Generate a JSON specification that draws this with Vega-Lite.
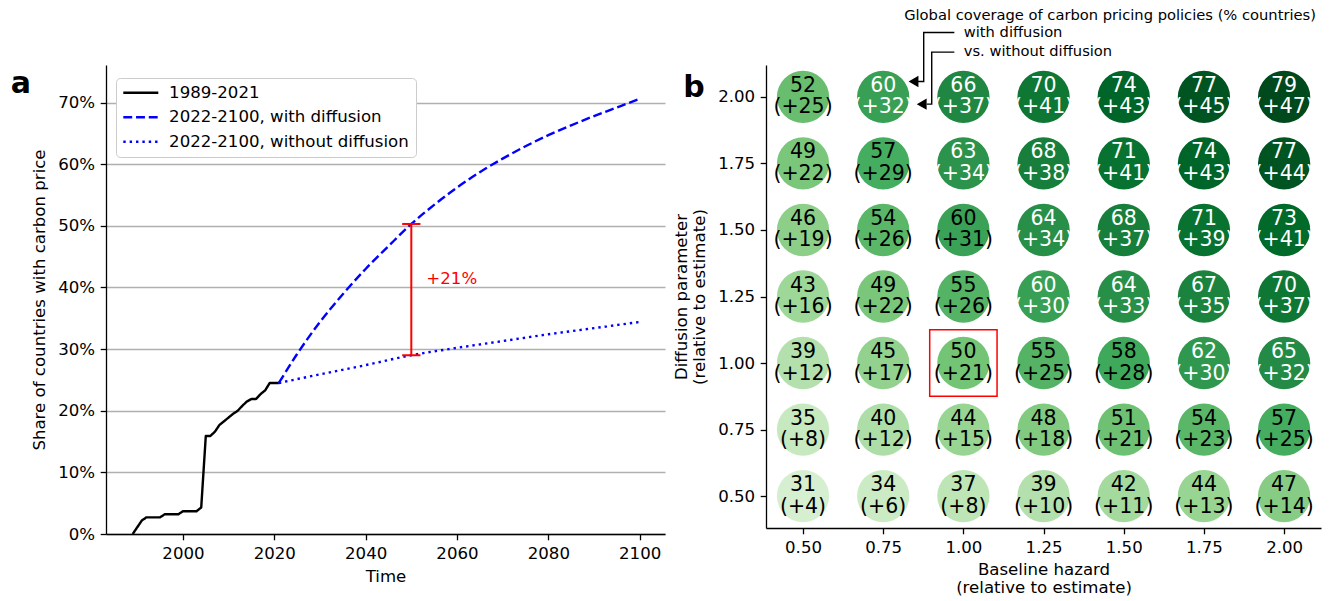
{
  "$schema": "https://vega.github.io/schema/vega-lite/v6.json",
  "padding": {"left": 10, "top": 7, "right": 5, "bottom": 2},
  "background": "white",
  "config": {
    "font": "DejaVu Sans",
    "view": {"stroke": null},
    "axis": {
      "grid": false,
      "labelFontSize": 16.6,
      "titleFontSize": 16.6,
      "titleFontWeight": "normal",
      "labelColor": "black",
      "titleColor": "black",
      "domainColor": "black",
      "tickColor": "black",
      "domainWidth": 1.3,
      "tickWidth": 1.3,
      "tickSize": 5.8,
      "labelPadding": 5.6,
      "labelFlush": false,
      "labelOverlap": false,
      "gridColor": "#b0b0b0",
      "gridWidth": 1.3,
      "gridOpacity": 1,
      "titleLineHeight": 18.5
    }
  },
  "datasets": {
    "hist": [
      {"year": 1989, "share": 0.0, "series": "1989-2021"},
      {"year": 1990, "share": 0.011, "series": "1989-2021"},
      {"year": 1991, "share": 0.022, "series": "1989-2021"},
      {"year": 1992, "share": 0.027, "series": "1989-2021"},
      {"year": 1993, "share": 0.027, "series": "1989-2021"},
      {"year": 1994, "share": 0.027, "series": "1989-2021"},
      {"year": 1995, "share": 0.027, "series": "1989-2021"},
      {"year": 1996, "share": 0.032, "series": "1989-2021"},
      {"year": 1997, "share": 0.032, "series": "1989-2021"},
      {"year": 1998, "share": 0.032, "series": "1989-2021"},
      {"year": 1999, "share": 0.032, "series": "1989-2021"},
      {"year": 2000, "share": 0.037, "series": "1989-2021"},
      {"year": 2001, "share": 0.037, "series": "1989-2021"},
      {"year": 2002, "share": 0.037, "series": "1989-2021"},
      {"year": 2003, "share": 0.037, "series": "1989-2021"},
      {"year": 2004, "share": 0.043, "series": "1989-2021"},
      {"year": 2005, "share": 0.159, "series": "1989-2021"},
      {"year": 2006, "share": 0.159, "series": "1989-2021"},
      {"year": 2007, "share": 0.166, "series": "1989-2021"},
      {"year": 2008, "share": 0.177, "series": "1989-2021"},
      {"year": 2009, "share": 0.183, "series": "1989-2021"},
      {"year": 2010, "share": 0.189, "series": "1989-2021"},
      {"year": 2011, "share": 0.195, "series": "1989-2021"},
      {"year": 2012, "share": 0.200, "series": "1989-2021"},
      {"year": 2013, "share": 0.208, "series": "1989-2021"},
      {"year": 2014, "share": 0.215, "series": "1989-2021"},
      {"year": 2015, "share": 0.219, "series": "1989-2021"},
      {"year": 2016, "share": 0.219, "series": "1989-2021"},
      {"year": 2017, "share": 0.227, "series": "1989-2021"},
      {"year": 2018, "share": 0.233, "series": "1989-2021"},
      {"year": 2019, "share": 0.245, "series": "1989-2021"},
      {"year": 2020, "share": 0.245, "series": "1989-2021"},
      {"year": 2021, "share": 0.245, "series": "1989-2021"}
    ],
    "proj": [
      {"year": 2021, "share": 0.245, "series": "2022-2100, with diffusion"},
      {"year": 2025, "share": 0.292, "series": "2022-2100, with diffusion"},
      {"year": 2030, "share": 0.344, "series": "2022-2100, with diffusion"},
      {"year": 2035, "share": 0.389, "series": "2022-2100, with diffusion"},
      {"year": 2040, "share": 0.430, "series": "2022-2100, with diffusion"},
      {"year": 2045, "share": 0.467, "series": "2022-2100, with diffusion"},
      {"year": 2050, "share": 0.503, "series": "2022-2100, with diffusion"},
      {"year": 2055, "share": 0.534, "series": "2022-2100, with diffusion"},
      {"year": 2060, "share": 0.562, "series": "2022-2100, with diffusion"},
      {"year": 2065, "share": 0.587, "series": "2022-2100, with diffusion"},
      {"year": 2070, "share": 0.609, "series": "2022-2100, with diffusion"},
      {"year": 2075, "share": 0.629, "series": "2022-2100, with diffusion"},
      {"year": 2080, "share": 0.647, "series": "2022-2100, with diffusion"},
      {"year": 2085, "share": 0.663, "series": "2022-2100, with diffusion"},
      {"year": 2090, "share": 0.678, "series": "2022-2100, with diffusion"},
      {"year": 2095, "share": 0.692, "series": "2022-2100, with diffusion"},
      {"year": 2100, "share": 0.706, "series": "2022-2100, with diffusion"},
      {"year": 2021, "share": 0.245, "series": "2022-2100, without diffusion"},
      {"year": 2030, "share": 0.259, "series": "2022-2100, without diffusion"},
      {"year": 2040, "share": 0.274, "series": "2022-2100, without diffusion"},
      {"year": 2050, "share": 0.290, "series": "2022-2100, without diffusion"},
      {"year": 2060, "share": 0.302, "series": "2022-2100, without diffusion"},
      {"year": 2070, "share": 0.313, "series": "2022-2100, without diffusion"},
      {"year": 2080, "share": 0.324, "series": "2022-2100, without diffusion"},
      {"year": 2090, "share": 0.334, "series": "2022-2100, without diffusion"},
      {"year": 2100, "share": 0.344, "series": "2022-2100, without diffusion"}
    ],
    "gap": [{"year": 2050, "share": 0.290, "share2": 0.503}],
    "caps": [
      {"year": 2048.0, "year2": 2052.0, "share": 0.290},
      {"year": 2048.0, "year2": 2052.0, "share": 0.503}
    ],
    "gaplabel": [{"year": 2053.3, "share": 0.414, "label": "+21%"}],
    "panelA": [{"year": 1964.5, "share": 0.715, "label": "a"}],
    "grid": [
      {"h": 0.5, "dp": 2.0, "w": 52, "d": 25}, {"h": 0.75, "dp": 2.0, "w": 60, "d": 32}, {"h": 1.0, "dp": 2.0, "w": 66, "d": 37}, {"h": 1.25, "dp": 2.0, "w": 70, "d": 41}, {"h": 1.5, "dp": 2.0, "w": 74, "d": 43}, {"h": 1.75, "dp": 2.0, "w": 77, "d": 45}, {"h": 2.0, "dp": 2.0, "w": 79, "d": 47},
      {"h": 0.5, "dp": 1.75, "w": 49, "d": 22}, {"h": 0.75, "dp": 1.75, "w": 57, "d": 29}, {"h": 1.0, "dp": 1.75, "w": 63, "d": 34}, {"h": 1.25, "dp": 1.75, "w": 68, "d": 38}, {"h": 1.5, "dp": 1.75, "w": 71, "d": 41}, {"h": 1.75, "dp": 1.75, "w": 74, "d": 43}, {"h": 2.0, "dp": 1.75, "w": 77, "d": 44},
      {"h": 0.5, "dp": 1.5, "w": 46, "d": 19}, {"h": 0.75, "dp": 1.5, "w": 54, "d": 26}, {"h": 1.0, "dp": 1.5, "w": 59.6, "d": 31}, {"h": 1.25, "dp": 1.5, "w": 64, "d": 34}, {"h": 1.5, "dp": 1.5, "w": 68, "d": 37}, {"h": 1.75, "dp": 1.5, "w": 71, "d": 39}, {"h": 2.0, "dp": 1.5, "w": 73, "d": 41},
      {"h": 0.5, "dp": 1.25, "w": 43, "d": 16}, {"h": 0.75, "dp": 1.25, "w": 49, "d": 22}, {"h": 1.0, "dp": 1.25, "w": 55, "d": 26}, {"h": 1.25, "dp": 1.25, "w": 60, "d": 30}, {"h": 1.5, "dp": 1.25, "w": 64, "d": 33}, {"h": 1.75, "dp": 1.25, "w": 67, "d": 35}, {"h": 2.0, "dp": 1.25, "w": 70, "d": 37},
      {"h": 0.5, "dp": 1.0, "w": 39, "d": 12}, {"h": 0.75, "dp": 1.0, "w": 45, "d": 17}, {"h": 1.0, "dp": 1.0, "w": 50, "d": 21}, {"h": 1.25, "dp": 1.0, "w": 55, "d": 25}, {"h": 1.5, "dp": 1.0, "w": 58, "d": 28}, {"h": 1.75, "dp": 1.0, "w": 62, "d": 30}, {"h": 2.0, "dp": 1.0, "w": 65, "d": 32},
      {"h": 0.5, "dp": 0.75, "w": 35, "d": 8}, {"h": 0.75, "dp": 0.75, "w": 40, "d": 12}, {"h": 1.0, "dp": 0.75, "w": 44, "d": 15}, {"h": 1.25, "dp": 0.75, "w": 48, "d": 18}, {"h": 1.5, "dp": 0.75, "w": 51, "d": 21}, {"h": 1.75, "dp": 0.75, "w": 54, "d": 23}, {"h": 2.0, "dp": 0.75, "w": 57, "d": 25},
      {"h": 0.5, "dp": 0.5, "w": 31, "d": 4}, {"h": 0.75, "dp": 0.5, "w": 34, "d": 6}, {"h": 1.0, "dp": 0.5, "w": 37, "d": 8}, {"h": 1.25, "dp": 0.5, "w": 39, "d": 10}, {"h": 1.5, "dp": 0.5, "w": 42, "d": 11}, {"h": 1.75, "dp": 0.5, "w": 44, "d": 13}, {"h": 2.0, "dp": 0.5, "w": 47, "d": 14}
    ],
    "box": [{"h": 0.895, "h2": 1.105, "dp": 0.875, "dp2": 1.125}],
    "arrows": [
      {"id": 1, "o": 1, "h": 0.9718, "dp": 2.2420},
      {"id": 1, "o": 2, "h": 0.8763, "dp": 2.2420},
      {"id": 1, "o": 3, "h": 0.8763, "dp": 2.0578},
      {"id": 1, "o": 4, "h": 0.8585, "dp": 2.0578},
      {"id": 2, "o": 1, "h": 0.9718, "dp": 2.1684},
      {"id": 2, "o": 2, "h": 0.9013, "dp": 2.1684},
      {"id": 2, "o": 3, "h": 0.9013, "dp": 1.9729},
      {"id": 2, "o": 4, "h": 0.8857, "dp": 1.9729}
    ],
    "heads": [
      {"h": 0.8445, "dp": 2.0578},
      {"h": 0.8701, "dp": 1.9729}
    ],
    "noteTitle": [{"h": 1.4573, "dp": 2.3048, "label": "Global coverage of carbon pricing policies (% countries)"}],
    "noteLines": [
      {"h": 1.0011, "dp": 2.2398, "label": "with diffusion"},
      {"h": 1.0011, "dp": 2.1684, "label": "vs. without diffusion"}
    ],
    "panelB": [{"h": 0.1601, "dp": 2.0, "label": "b"}]
  },
  "spacing": 101,
  "bounds": "flush",
  "hconcat": [
    {
      "width": 559,
      "height": 469,
      "layer": [
        {
          "data": {"name": "hist"},
          "mark": {"type": "line", "strokeWidth": 2.4, "strokeJoin": "round"},
          "encoding": {
            "x": {"field": "year", "type": "quantitative", "scale": {"domain": [1983.15, 2105.55], "nice": false, "zero": false}, "axis": {"values": [2000, 2020, 2040, 2060, 2080, 2100], "format": "d", "title": "Time", "titlePadding": 6}},
            "y": {"field": "share", "type": "quantitative", "scale": {"domain": [0, 0.7609], "nice": false, "zero": false}, "axis": {"values": [0, 0.1, 0.2, 0.3, 0.4, 0.5, 0.6, 0.7], "format": ".0%", "title": "Share of countries with carbon price", "grid": true, "titlePadding": 10}},
            "color": {"field": "series", "type": "nominal", "scale": {"domain": ["1989-2021", "2022-2100, with diffusion", "2022-2100, without diffusion"], "range": ["black", "blue", "blue"]}, "legend": null},
            "strokeDash": {"field": "series", "type": "nominal", "scale": {"domain": ["1989-2021", "2022-2100, with diffusion", "2022-2100, without diffusion"], "range": [[1, 0], [8.9, 3.84], [2.4, 3.96]]}, "legend": {"orient": "none", "legendX": 10, "legendY": 13, "title": null, "symbolType": "M-1.5,0H5.5", "symbolSize": 100, "symbolStrokeWidth": 2.4, "labelFontSize": 16.6, "labelOffset": 30, "rowPadding": 7.5, "padding": 6.5, "fillColor": "white", "strokeColor": "#cccccc", "cornerRadius": 4, "labelColor": "black", "labelLimit": 400, "encode": {"symbols": {"update": {"stroke": {"signal": "datum.value === '1989-2021' ? 'black' : 'blue'"}}}}}}
          }
        },
        {
          "data": {"name": "proj"},
          "mark": {"type": "line", "strokeWidth": 2.4, "interpolate": "monotone"},
          "encoding": {
            "x": {"field": "year", "type": "quantitative"},
            "y": {"field": "share", "type": "quantitative"},
            "color": {"field": "series", "type": "nominal", "legend": null},
            "strokeDash": {"field": "series", "type": "nominal"}
          }
        },
        {
          "data": {"name": "gap"},
          "mark": {"type": "rule", "color": "red", "strokeWidth": 2},
          "encoding": {
            "x": {"field": "year", "type": "quantitative"},
            "y": {"field": "share", "type": "quantitative"},
            "y2": {"field": "share2"}
          }
        },
        {
          "data": {"name": "caps"},
          "mark": {"type": "rule", "color": "red", "strokeWidth": 2},
          "encoding": {
            "x": {"field": "year", "type": "quantitative"},
            "x2": {"field": "year2"},
            "y": {"field": "share", "type": "quantitative"}
          }
        },
        {
          "data": {"name": "gaplabel"},
          "mark": {"type": "text", "color": "red", "fontSize": 16.6, "align": "left", "baseline": "middle"},
          "encoding": {
            "x": {"field": "year", "type": "quantitative"},
            "y": {"field": "share", "type": "quantitative"},
            "text": {"field": "label"}
          }
        },
        {
          "data": {"name": "panelA"},
          "mark": {"type": "text", "color": "black", "fontSize": 30, "fontWeight": "bold", "align": "center", "baseline": "alphabetic"},
          "encoding": {
            "x": {"field": "year", "type": "quantitative"},
            "y": {"field": "share", "type": "quantitative"},
            "text": {"field": "label"}
          }
        }
      ]
    },
    {
      "width": 555,
      "height": 463,
      "layer": [
        {
          "data": {"name": "grid"},
          "mark": {"type": "circle", "size": 2734, "opacity": 1},
          "encoding": {
            "x": {"field": "h", "type": "quantitative", "scale": {"domain": [0.3846, 2.115], "nice": false, "zero": false}, "axis": {"values": [0.5, 0.75, 1.0, 1.25, 1.5, 1.75, 2.0], "format": ".2f", "title": ["Baseline hazard", "(relative to estimate)"], "titlePadding": 5}},
            "y": {"field": "dp", "type": "quantitative", "scale": {"domain": [0.38, 2.12], "nice": false, "zero": false}, "axis": {"values": [0.5, 0.75, 1.0, 1.25, 1.5, 1.75, 2.0], "format": ".2f", "title": ["Diffusion parameter", "(relative to estimate)"], "titlePadding": 10}},
            "color": {"field": "w", "type": "quantitative", "scale": {"type": "linear", "domain": [20, 27.5, 35, 42.5, 50, 57.5, 65, 72.5, 80], "range": ["#f7fcf5", "#e5f5e0", "#c7e9c0", "#a1d99b", "#74c476", "#41ab5d", "#238b45", "#006d2c", "#00441b"]}, "legend": null}
          }
        },
        {
          "data": {"name": "grid"},
          "mark": {"type": "text", "fontSize": 20.5, "baseline": "alphabetic", "align": "center", "dy": -5},
          "encoding": {
            "x": {"field": "h", "type": "quantitative"},
            "y": {"field": "dp", "type": "quantitative"},
            "text": {"field": "w", "format": ".0f"},
            "color": {"condition": {"test": "datum.w >= 60", "value": "white"}, "value": "black"}
          }
        },
        {
          "data": {"name": "grid"},
          "mark": {"type": "text", "fontSize": 20.5, "baseline": "alphabetic", "align": "center", "dy": 16.5, "text": {"expr": "'(+' + datum.d + ')'"}},
          "encoding": {
            "x": {"field": "h", "type": "quantitative"},
            "y": {"field": "dp", "type": "quantitative"},
            "color": {"condition": {"test": "datum.w >= 60", "value": "white"}, "value": "black"}
          }
        },
        {
          "data": {"name": "box"},
          "mark": {"type": "rect", "fill": null, "filled": false, "stroke": "red", "strokeWidth": 1.5},
          "encoding": {
            "x": {"field": "h", "type": "quantitative"},
            "x2": {"field": "h2"},
            "y": {"field": "dp", "type": "quantitative"},
            "y2": {"field": "dp2"}
          }
        },
        {
          "data": {"name": "arrows"},
          "mark": {"type": "line", "color": "black", "strokeWidth": 1.4},
          "encoding": {
            "x": {"field": "h", "type": "quantitative"},
            "y": {"field": "dp", "type": "quantitative"},
            "detail": {"field": "id"},
            "order": {"field": "o"}
          }
        },
        {
          "data": {"name": "heads"},
          "mark": {"type": "point", "shape": "triangle-left", "filled": true, "color": "black", "size": 130, "opacity": 1},
          "encoding": {
            "x": {"field": "h", "type": "quantitative"},
            "y": {"field": "dp", "type": "quantitative"}
          }
        },
        {
          "data": {"name": "noteTitle"},
          "mark": {"type": "text", "fontSize": 14.7, "align": "center", "baseline": "middle", "color": "black"},
          "encoding": {
            "x": {"field": "h", "type": "quantitative"},
            "y": {"field": "dp", "type": "quantitative"},
            "text": {"field": "label"}
          }
        },
        {
          "data": {"name": "noteLines"},
          "mark": {"type": "text", "fontSize": 14.7, "align": "left", "baseline": "middle", "color": "black"},
          "encoding": {
            "x": {"field": "h", "type": "quantitative"},
            "y": {"field": "dp", "type": "quantitative"},
            "text": {"field": "label"}
          }
        },
        {
          "data": {"name": "panelB"},
          "mark": {"type": "text", "fontSize": 30, "fontWeight": "bold", "align": "center", "baseline": "alphabetic", "color": "black"},
          "encoding": {
            "x": {"field": "h", "type": "quantitative"},
            "y": {"field": "dp", "type": "quantitative"},
            "text": {"field": "label"}
          }
        }
      ]
    }
  ]
}
